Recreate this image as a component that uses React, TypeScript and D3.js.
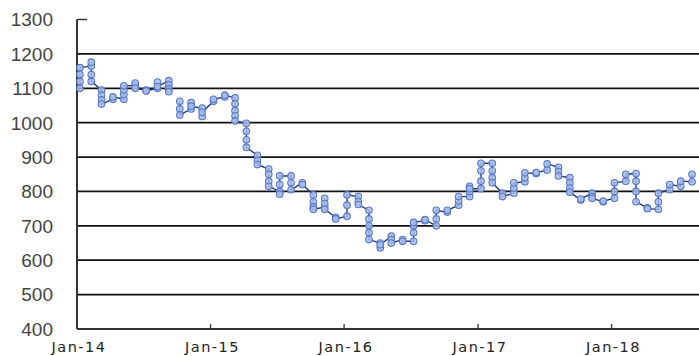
import React from "react";
import * as d3 from "d3";

// month keys (YYYY-MM) and the weekly values plotted within each month
const months: string[] = [
  "2014-01","2014-02","2014-03","2014-04","2014-05","2014-06","2014-07","2014-08","2014-09","2014-10","2014-11","2014-12",
  "2015-01","2015-02","2015-03","2015-04","2015-05","2015-06","2015-07","2015-08","2015-09","2015-10","2015-11","2015-12",
  "2016-01","2016-02","2016-03","2016-04","2016-05","2016-06","2016-07","2016-08","2016-09","2016-10","2016-11","2016-12",
  "2017-01","2017-02","2017-03","2017-04","2017-05","2017-06","2017-07","2017-08","2017-09","2017-10","2017-11","2017-12",
  "2018-01","2018-02","2018-03","2018-04","2018-05","2018-06","2018-07","2018-08",
];

const weeklyValues: number[][] = [
  [1100, 1120, 1140, 1160], [1165, 1176, 1140, 1120], [1095, 1080, 1066, 1054], [1068, 1075],
  [1068, 1082, 1095, 1107], [1108, 1115, 1100], [1095, 1092], [1100, 1118, 1105],
  [1122, 1110, 1098, 1090], [1062, 1040, 1022], [1040, 1058, 1048], [1042, 1018, 1030],
  [1062, 1068], [1075, 1080], [1072, 1055, 1035, 1020, 1005], [998, 975, 950, 928],
  [905, 890, 878], [865, 850, 830, 815], [800, 792, 820, 845], [845, 825, 805],
  [825, 820], [790, 770, 755, 748], [755, 780, 765, 748], [725, 720],
  [728, 760, 790], [785, 770, 762], [745, 720, 700, 680, 660], [650, 636, 645],
  [670, 660, 650], [660, 655], [655, 680, 700, 710], [715, 718],
  [700, 720, 745], [740, 745], [760, 772, 785], [785, 800, 815, 808],
  [808, 830, 860, 882], [882, 860, 840, 825], [795, 785], [795, 810, 825],
  [828, 840, 854], [852, 855], [862, 880], [870, 858, 845],
  [840, 825, 810, 798], [775, 778], [795, 785, 780], [770, 772],
  [780, 800, 825], [830, 850], [852, 830, 800, 770], [752, 750],
  [748, 770, 795], [805, 820], [815, 830], [828, 850],
];

// the line is broken before these months
const gapBefore: string[] = ["2014-10"];

const yTicks: number[] = [400, 500, 600, 700, 800, 900, 1000, 1100, 1200, 1300];
const xTickYears: number[] = [2014, 2015, 2016, 2017, 2018];
const xTickLabels: string[] = ["Jan-14", "Jan-15", "Jan-16", "Jan-17", "Jan-18"];

type Pt = { date: Date; value: number; gap: boolean };

export default function App() {
  const W = 699, H = 356;
  const left = 77, right = 699, top = 19.5, bottom = 329;

  const x = d3.scaleTime()
    .domain([new Date(2014, 0, 1), new Date(2018, 7, 28)])
    .range([left, right]);
  const y = d3.scaleLinear().domain([400, 1300]).range([bottom, top]);

  const pts: Pt[] = [];
  months.forEach((m, i) => {
    const [yy, mm] = m.split("-").map(Number);
    const date = new Date(yy, mm - 1, 9);
    if (gapBefore.includes(m)) pts.push({ date, value: NaN, gap: true });
    weeklyValues[i].forEach((v) => pts.push({ date, value: v, gap: false }));
  });

  const line = d3.line<Pt>()
    .defined((d) => !d.gap)
    .x((d) => x(d.date))
    .y((d) => y(d.value));

  const real = pts.filter((p) => !p.gap);

  return (
    <svg width={W} height={H} style={{ position: "absolute", left: 0, top: 0, background: "#fff" }}>
      {/* gridlines */}
      {yTicks.filter((t) => t > 400 && t < 1300).map((t) => (
        <line key={t} x1={left} x2={right} y1={y(t)} y2={y(t)} stroke="#111" strokeWidth={1.8} />
      ))}
      <line x1={left} x2={left + 10} y1={y(1300)} y2={y(1300)} stroke="#333" strokeWidth={1.5} />
      {/* axes */}
      <line x1={left} x2={left} y1={top} y2={bottom} stroke="#333" strokeWidth={2} />
      <line x1={left} x2={right} y1={bottom} y2={bottom} stroke="#333" strokeWidth={2} />
      {xTickYears.slice(1).map((yr) => (
        <line key={yr} x1={x(new Date(yr, 0, 1))} x2={x(new Date(yr, 0, 1))} y1={bottom} y2={bottom - 5} stroke="#333" strokeWidth={1.3} />
      ))}
      {/* y labels */}
      {yTicks.map((t) => (
        <text key={t} x={53} y={y(t)} dy="0.36em" textAnchor="end" fontFamily="Liberation Sans, Arial, sans-serif" fontSize={19} fill="#444">
          {t}
        </text>
      ))}
      {/* x labels */}
      {xTickYears.map((yr, i) => (
        <text key={yr} x={x(new Date(yr, 0, 1)) + 2} y={352} textAnchor="middle" fontFamily="DejaVu Sans, sans-serif" fontSize={14.5} letterSpacing={1.5} fill="#222">
          {xTickLabels[i]}
        </text>
      ))}
      {/* series */}
      <path d={line(pts) || ""} fill="none" stroke="#26397a" strokeWidth={1.4} />
      {real.map((p, i) => (
        <circle key={i} cx={x(p.date)} cy={y(p.value)} r={3.3} fill="#a6bde9" fillOpacity={0.85} stroke="#5878c8" strokeWidth={1.1} />
      ))}
    </svg>
  );
}
